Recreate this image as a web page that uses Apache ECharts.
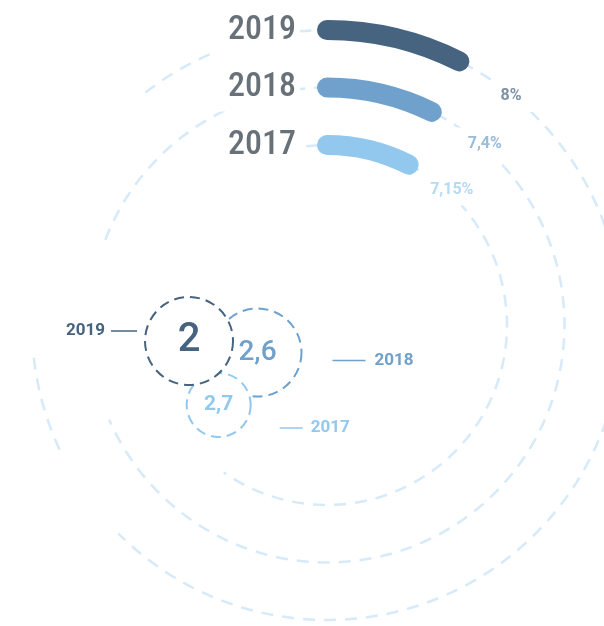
<!DOCTYPE html>
<html>
<head>
<meta charset="utf-8">
<script src="https://cdn.jsdelivr.net/npm/echarts@6/dist/echarts.min.js"></script>
<style>
  html, body { margin: 0; padding: 0; background: #fff; }
  #chart { width: 604px; height: 626px; }
</style>
</head>
<body>
<div id="chart"></div>
<script>
// ---- data ----
const years = ['2019', '2018', '2017'];
const growthRates = [8, 7.4, 7.15];      // %, drawn as the arcs
const bubbleValues = [2, 2.6, 2.7];      // drawn in the dashed bubbles

// ---- styling ----
const seriesColors = ['#46637f', '#6fa1cc', '#93c8ee'];
const labelColors = ['#7d92a5', '#98bcdc', '#b5daf4'];
const ringColor = '#d6eaf9';
const yearColor = '#687078';
const fontFamily = 'Roboto, "Noto Sans", sans-serif';
const narrowFamily = '"Roboto Condensed", "Liberation Sans Narrow", Roboto, sans-serif';

// each year sits on its own circular track around a shared centre
const ringCenter = [327, 325];
const ringRadius = [295, 237.5, 180];
const ringHalfBand = 29;
const ringAngleMax = [108, 101.7, 95.3];
// visible stretches of each dashed track (degrees, clockwise from 12 o'clock)
const ringSpans = [[[-38, 225], [245, 264]], [[-69, 246.5]], [[-20, 215]]];
// gap between an arc's end and its percentage label
const labelGap = [36, 30, 14];

// bubble cluster layout (page units), radius, stacking and leader tags
const bubbleLayout = [
  { x: 189, y: 341, r: 44, z: 3, font: 40, weight: 500,
    tag: { align: 'right', from: -78, to: -52, dy: -10, text: -84 } },
  { x: 257.5, y: 352.5, r: 44, z: 1, font: 28, weight: 500,
    tag: { align: 'left', from: 75, to: 108, dy: 8, text: 117 } },
  { x: 218.7, y: 405, r: 32, z: 2, font: 21, weight: 'bold',
    tag: { align: 'left', from: 61, to: 84, dy: 23, text: 92 } }
];

const fmt = v => String(v).replace('.', ',');
const rad = d => (d - 90) * Math.PI / 180;

const chart = echarts.init(document.getElementById('chart'), null, { renderer: 'canvas' });

const polar = years.map((y, i) => ({
  center: ringCenter,
  radius: [ringRadius[i] - ringHalfBand, ringRadius[i] + ringHalfBand]
}));

const angleAxis = years.map((y, i) => ({
  polarIndex: i,
  type: 'value',
  min: 0,
  max: ringAngleMax[i],
  startAngle: 90,
  clockwise: true,
  show: false
}));

const radiusAxis = years.map((y, i) => ({
  polarIndex: i,
  type: 'category',
  data: [y],
  z: 10,
  axisLine: { show: false },
  axisTick: { show: false },
  splitLine: { show: false },
  axisLabel: {
    show: true,
    margin: 27,
    color: yearColor,
    fontSize: 34,
    fontWeight: 500,
    fontFamily: narrowFamily,
    backgroundColor: '#fff',
    padding: [10, 4, 4, 14]
  }
}));

// dashed tracks
const trackSeries = years.map((y, i) => ({
  type: 'custom',
  coordinateSystem: 'polar',
  polarIndex: i,
  silent: true,
  z: 1,
  data: [[0, 0]],
  renderItem: (params, api) => {
    const cs = params.coordSys;
    const p = api.coord([0, 0]);
    const r = Math.hypot(p[0] - cs.cx, p[1] - cs.cy);
    return {
      type: 'group',
      children: ringSpans[i].map(s => ({
        type: 'arc',
        shape: { cx: cs.cx, cy: cs.cy, r: r, startAngle: rad(s[0]), endAngle: rad(s[1]), clockwise: true },
        style: { stroke: ringColor, lineWidth: 2.5, lineDash: [12, 9], fill: null }
      }))
    };
  }
}));

// growth arcs
const barSeries = years.map((y, i) => ({
  type: 'bar',
  coordinateSystem: 'polar',
  polarIndex: i,
  data: [growthRates[i]],
  barWidth: 20,
  roundCap: true,
  z: 3,
  itemStyle: { color: seriesColors[i] },
  label: {
    show: true,
    position: 'end',
    rotate: 0,
    distance: labelGap[i],
    offset: [-12, 14],
    formatter: p => fmt(p.value) + '%',
    color: labelColors[i],
    fontFamily: fontFamily,
    fontWeight: 'bold',
    fontSize: 16,
    backgroundColor: '#fff',
    padding: [8, 12]
  }
}));

// bubbles with leader tags
const bubbleSeries = {
  type: 'custom',
  coordinateSystem: 'cartesian2d',
  clip: false,
  silent: true,
  data: bubbleValues.map((v, i) => [i, v]),
  renderItem: (params, api) => {
    const i = params.dataIndex;
    const L = bubbleLayout[i];
    const c = api.coord([L.x, L.y]);
    const color = seriesColors[i];
    const t = L.tag;
    const ty = c[1] + t.dy;
    return {
      type: 'group',
      children: [
        { type: 'circle', z2: L.z,
          shape: { cx: c[0], cy: c[1], r: L.r },
          style: { fill: '#fff', stroke: color, lineWidth: 2, lineDash: [10, 6] } },
        { type: 'text', z2: 20,
          style: { x: c[0], y: c[1], text: fmt(api.value(1)), align: 'center', verticalAlign: 'middle',
                   fill: color, fontFamily: fontFamily, fontWeight: L.weight, fontSize: L.font } },
        { type: 'line', z2: 20,
          shape: { x1: c[0] + t.from, y1: ty, x2: c[0] + t.to, y2: ty },
          style: { stroke: color, lineWidth: 1.5 } },
        { type: 'text', z2: 20,
          style: { x: c[0] + t.text, y: ty, text: years[i], align: t.align, verticalAlign: 'middle',
                   fill: color, fontFamily: fontFamily, fontWeight: 'bold', fontSize: 17 } }
      ]
    };
  }
};

chart.setOption({
  backgroundColor: '#fff',
  animation: false,
  polar: polar,
  angleAxis: angleAxis,
  radiusAxis: radiusAxis,
  grid: { left: 0, right: 0, top: 0, bottom: 0 },
  xAxis: { type: 'value', min: 0, max: 604, show: false },
  yAxis: { type: 'value', min: 0, max: 626, inverse: true, show: false },
  series: [...trackSeries, ...barSeries, bubbleSeries]
});
</script>
</body>
</html>
